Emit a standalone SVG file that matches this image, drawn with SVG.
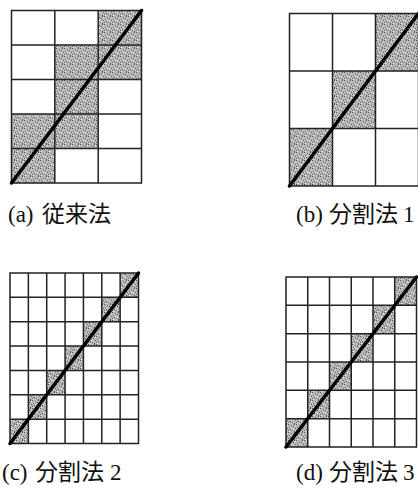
<svg xmlns="http://www.w3.org/2000/svg" width="418" height="497" viewBox="0 0 418 497">
<defs>
<pattern id="stip" width="8" height="8" patternUnits="userSpaceOnUse">
<rect width="8" height="8" fill="#b8b8b8"/>
<rect x="0" y="0" width="1" height="1" fill="#555"/>
<rect x="3" y="1" width="1" height="1" fill="#666"/>
<rect x="6" y="0" width="1" height="1" fill="#4a4a4a"/>
<rect x="1" y="3" width="1" height="1" fill="#777"/>
<rect x="5" y="2" width="1" height="1" fill="#555"/>
<rect x="7" y="4" width="1" height="1" fill="#666"/>
<rect x="2" y="5" width="1" height="1" fill="#4a4a4a"/>
<rect x="4" y="6" width="1" height="1" fill="#777"/>
<rect x="6" y="7" width="1" height="1" fill="#555"/>
<rect x="0" y="6" width="1" height="1" fill="#666"/>
<rect x="3" y="4" width="1" height="1" fill="#eee"/>
<rect x="7" y="1" width="1" height="1" fill="#e8e8e8"/>
<rect x="1" y="7" width="1" height="1" fill="#eee"/>
<rect x="5" y="5" width="1" height="1" fill="#e0e0e0"/>
</pattern>
</defs>
<style>
.sh{fill:url(#stip);stroke:none}
.grid{fill:none;stroke:#222;stroke-width:1.5}
.diag{stroke:#000;stroke-width:3.5;stroke-linecap:round}
.lbl{font-family:'Liberation Serif','Noto Sans CJK JP',serif;font-size:23px;fill:#111}
</style>
<rect width="418" height="497" fill="#fff"/>

<g id="panel-a">
<rect class="sh" x="98.2" y="10.5" width="43.3" height="34.5"/>
<rect class="sh" x="54.8" y="45" width="86.7" height="34.5"/>
<rect class="sh" x="54.8" y="79.5" width="43.4" height="34.5"/>
<rect class="sh" x="11.5" y="114" width="86.7" height="34.5"/>
<rect class="sh" x="11.5" y="148.5" width="43.3" height="34.5"/>
<path class="grid" d="M11.5 10.5H141.5V183H11.5Z M54.8 10.5V183 M98.2 10.5V183 M11.5 45H141.5 M11.5 79.5H141.5 M11.5 114H141.5 M11.5 148.5H141.5"/>
<text class="lbl" y="222"><tspan x="8">(a)</tspan><tspan x="42">従来法</tspan></text>
</g>

<g id="panel-b">
<rect class="sh" x="375.5" y="13.5" width="43" height="57.5"/>
<rect class="sh" x="332.5" y="71" width="43" height="57.5"/>
<rect class="sh" x="289.5" y="128.5" width="43" height="57.5"/>
<path class="grid" d="M289.5 13.5H418.5V186H289.5Z M332.5 13.5V186 M375.5 13.5V186 M289.5 71H418.5 M289.5 128.5H418.5"/>
<text class="lbl" y="222"><tspan x="296">(b)</tspan><tspan x="329">分割法</tspan><tspan x="403">1</tspan></text>
</g>

<g id="panel-c">
<rect class="sh" x="120.14" y="273" width="18.36" height="24.36"/>
<rect class="sh" x="101.79" y="297.36" width="18.36" height="24.36"/>
<rect class="sh" x="83.43" y="321.71" width="18.36" height="24.36"/>
<rect class="sh" x="65.07" y="346.07" width="18.36" height="24.36"/>
<rect class="sh" x="46.71" y="370.43" width="18.36" height="24.36"/>
<rect class="sh" x="28.36" y="394.79" width="18.36" height="24.36"/>
<rect class="sh" x="10" y="419.14" width="18.36" height="24.36"/>
<path class="grid" d="M10 273H138.5V443.5H10Z M28.36 273V443.5 M46.71 273V443.5 M65.07 273V443.5 M83.43 273V443.5 M101.79 273V443.5 M120.14 273V443.5 M10 297.36H138.5 M10 321.71H138.5 M10 346.07H138.5 M10 370.43H138.5 M10 394.79H138.5 M10 419.14H138.5"/>
<text class="lbl" y="480"><tspan x="2">(c)</tspan><tspan x="35">分割法</tspan><tspan x="110">2</tspan></text>
</g>

<g id="panel-d">
<rect class="sh" x="394.75" y="277" width="21.75" height="28.33"/>
<rect class="sh" x="373" y="305.33" width="21.75" height="28.33"/>
<rect class="sh" x="351.25" y="333.67" width="21.75" height="28.33"/>
<rect class="sh" x="329.5" y="362" width="21.75" height="28.33"/>
<rect class="sh" x="307.75" y="390.33" width="21.75" height="28.33"/>
<rect class="sh" x="286" y="418.67" width="21.75" height="28.33"/>
<path class="grid" d="M286 277H416.5V447H286Z M307.75 277V447 M329.5 277V447 M351.25 277V447 M373 277V447 M394.75 277V447 M286 305.33H416.5 M286 333.67H416.5 M286 362H416.5 M286 390.33H416.5 M286 418.67H416.5"/>
<text class="lbl" y="480"><tspan x="296">(d)</tspan><tspan x="329">分割法</tspan><tspan x="403">3</tspan></text>
</g>

<g id="connectors">
<line class="diag" x1="11.5" y1="183" x2="141.5" y2="10.5"/>
<line class="diag" x1="289.5" y1="186" x2="418.5" y2="13.5"/>
<line class="diag" x1="10" y1="443.5" x2="138.5" y2="273"/>
<line class="diag" x1="286" y1="447" x2="416.5" y2="277"/>
</g>
</svg>
